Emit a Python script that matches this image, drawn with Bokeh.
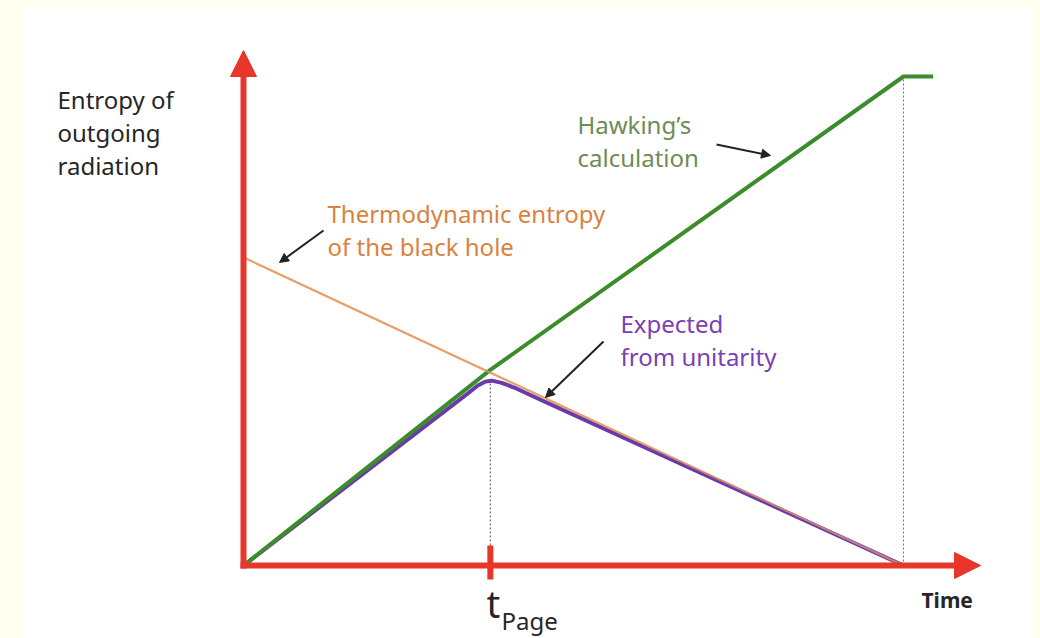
from bokeh.plotting import figure
from bokeh.models import Arrow, NormalHead, Range1d
from bokeh.core.properties import value
from bokeh.embed import file_html
from bokeh.resources import INLINE

# ---- data (time normalised to evaporation time = 1, entropy to Hawking max = 1)
t_page = 0.374
hawking_t = [0.0, 0.374, 1.0, 1.045]
hawking_s = [0.0, 0.400, 1.0, 1.0]
thermo_t = [0.0, 1.0]
thermo_s = [0.63, 0.0]
unitary_t = [0.0, 0.340, 0.355, 0.366, 0.376, 0.390, 0.410, 0.450, 1.0]
unitary_s = [0.0, 0.352, 0.368, 0.376, 0.378, 0.374, 0.364, 0.339, 0.0]

W, H = 1040, 638
X0, XS = 243.0, 660.0   # origin pixel column, pixels per time unit
Y0, YS = 565.0, 489.0   # origin pixel row, pixels per entropy unit


def dx(px):
    return (px - X0) / XS


def dy(py):
    return (Y0 - py) / YS


p = figure(width=W, height=H, output_backend="svg", toolbar_location=None,
           x_range=Range1d(dx(0), dx(W)), y_range=Range1d(dy(H), dy(0)),
           min_border=0, background_fill_color="#fffff0",
           border_fill_color="#fffff0")
p.axis.visible = False
p.grid.visible = False
p.outline_line_color = None

# white panel
p.quad(left=dx(22), right=dx(1032), top=dy(8), bottom=dy(H + 5),
       fill_color="white", line_color=None)

RED = "#e8362b"
FONT = value("Noto Sans")

# dotted guides
p.line([t_page, t_page], [0.0, 0.38], line_color="#555555", line_width=1,
       line_dash="2 2")
p.line([1.0, 1.0], [0.0, 1.0], line_color="#777777", line_width=1,
       line_dash="2 2")

# curves
p.line(thermo_t, thermo_s, line_color="#e8a06a", line_width=2)
p.line(unitary_t, unitary_s, line_color="#6a3aa8", line_width=4,
       line_join="round")
p.line(hawking_t, hawking_s, line_color="#3c8c2c", line_width=4,
       line_join="round")
p.line(thermo_t, thermo_s, line_color="#e8a06a", line_width=2, alpha=0.7)

# axes with arrowheads
p.add_layout(Arrow(end=NormalHead(size=26, fill_color=RED, line_color=RED),
                   x_start=0, y_start=dy(568), x_end=0, y_end=dy(50),
                   line_color=RED, line_width=6))
p.add_layout(Arrow(end=NormalHead(size=26, fill_color=RED, line_color=RED),
                   x_start=dx(240), y_start=0, x_end=dx(980), y_end=0,
                   line_color=RED, line_width=6))
# t_Page tick
p.segment(x0=[t_page], y0=[dy(545)], x1=[t_page], y1=[dy(579)],
          line_color=RED, line_width=6)


# annotation pointers
def pointer(x0, y0, x1, y1):
    p.add_layout(Arrow(end=NormalHead(size=9, fill_color="#222222",
                                      line_color="#222222"),
                       x_start=dx(x0), y_start=dy(y0),
                       x_end=dx(x1), y_end=dy(y1),
                       line_color="#222222", line_width=2))


pointer(323, 230, 279, 262)
pointer(716, 144, 770, 155)
pointer(603, 341, 545, 397)

# labels
LH = 1.0
FS = "24px"
p.text(x=[dx(57)], y=[dy(82)], text=["Entropy of\noutgoing\nradiation"],
       text_font=FONT, text_font_size=FS, text_color="#262626",
       text_baseline="top", text_line_height=LH)
p.text(x=[dx(327)], y=[dy(196)], text=["Thermodynamic entropy\nof the black hole"],
       text_font=FONT, text_font_size=FS, text_color="#d9823e",
       text_baseline="top", text_line_height=LH)
p.text(x=[dx(577)], y=[dy(107)], text=["Hawking\u2019s\ncalculation"],
       text_font=FONT, text_font_size=FS, text_color="#6e8c55",
       text_baseline="top", text_line_height=LH)
p.text(x=[dx(620)], y=[dy(306)], text=["Expected\nfrom unitarity"],
       text_font=FONT, text_font_size=FS, text_color="#7a40b4",
       text_baseline="top", text_line_height=LH)
p.text(x=[dx(921)], y=[dy(585)], text=["Time"],
       text_font=FONT, text_font_size="21px", text_color="#262626",
       text_baseline="top", text_font_style="bold")
p.text(x=[dx(486)], y=[dy(602)], text=["t"],
       text_font=FONT, text_font_size="38px", text_color="#262626",
       text_baseline="alphabetic")
p.text(x=[dx(501)], y=[dy(620)], text=["Page"],
       text_font=FONT, text_font_size="24px", text_color="#262626",
       text_baseline="alphabetic")

open("out.html", "w").write(file_html(p, INLINE))
